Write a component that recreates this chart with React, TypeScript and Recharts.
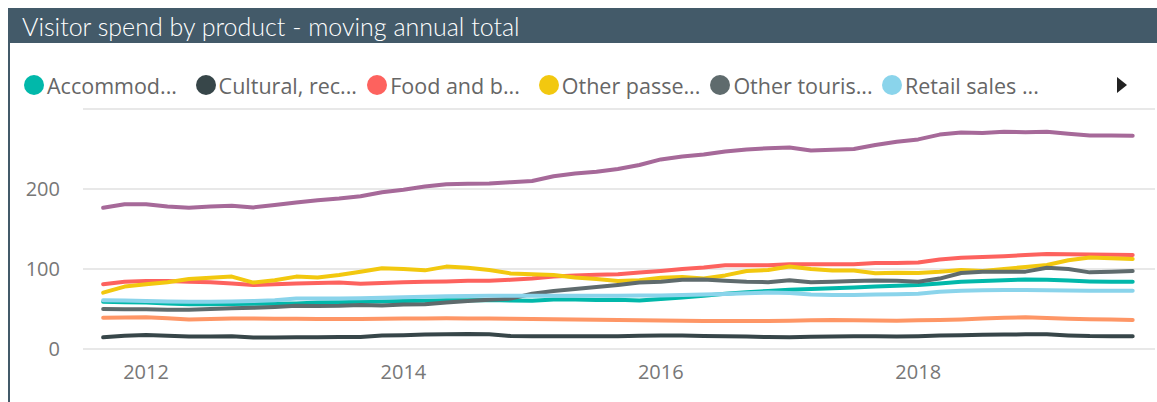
import { CartesianGrid, Line, LineChart, XAxis, YAxis } from "recharts";

// bi-monthly points, Sep 2011 .. Sep 2019 (decimal years)
const FIRST_YEAR = 2011;
const FIRST_MONTH = 8; // zero-based: September
const periods = Array.from({ length: 49 }, (_, i) => {
  const m = FIRST_MONTH + i * 2;
  return FIRST_YEAR + Math.floor(m / 12) + (m % 12) / 12;
});

const xTicks = [2012, 2014, 2016, 2018];
const yTicks = [0, 100, 200];

// $m, moving annual total
const accommodation = [59, 58.5, 58, 57, 56, 56, 56.3, 56.5, 56.5, 57, 58, 58.5, 59, 59.5, 60, 60.4, 60.8, 61, 61.2, 60.5, 60.3, 62, 61.8, 61.3, 61.5, 60.5, 62.5, 64.5, 66.5, 69, 71, 72.5, 74, 75, 76, 76.8, 78, 79, 80, 82, 84, 85, 86, 87, 86.5, 85.5, 84.5, 84, 84];
const cultural = [14.6, 16.7, 17.5, 16.5, 15.5, 15.6, 16, 14.5, 14.5, 14.6, 14.8, 15, 15, 16.8, 17.3, 18, 18.5, 18.8, 18.3, 16.2, 16, 16, 16, 16, 16, 16.5, 17, 16.8, 16.3, 16, 15.5, 15, 14.7, 15.2, 15.7, 16, 16, 15.6, 16, 16.8, 17.3, 17.7, 18, 18.3, 18.3, 17, 16.2, 16, 16];
const foodBeverage = [81, 84, 85, 85, 84, 83.5, 82, 80, 81, 82, 82.5, 83, 81.5, 82.5, 83.5, 84, 84.5, 85.4, 85.4, 86.5, 88, 90.5, 92, 92.7, 93.5, 95.5, 97.5, 100, 102, 104.6, 104.6, 104.6, 105.8, 105.8, 105.8, 106, 107.5, 107.5, 108, 112, 114, 115, 116, 117.5, 118.7, 118.5, 118, 117.8, 117.5];
const otherPassenger = [70.4, 78, 81, 83.5, 87.5, 89, 90.5, 83, 86, 90.5, 89.5, 92.5, 96.5, 101, 100, 98.3, 103, 101.5, 98.7, 94.5, 93.3, 92.5, 89.5, 87.5, 85, 86, 89, 90, 88, 92, 97.5, 98.75, 103, 100, 98, 98, 94.8, 95.2, 95, 96.5, 98.7, 97.5, 100, 102.5, 105, 111, 114.5, 113.5, 112.5];
const otherTourism = [50, 49.8, 49.6, 49.2, 49, 50, 51, 51.5, 52.5, 54, 53.7, 54, 55, 54.5, 55.5, 56, 58, 60, 61.5, 63, 69, 72.5, 75, 77.5, 80, 83, 84, 86.5, 87, 85.4, 84, 83.5, 86, 83.5, 84, 85, 85.5, 85.4, 84, 88, 95, 96.5, 96.7, 96.7, 101.5, 100, 95.8, 96.5, 97.5];
const retailFood = [61, 60.7, 60, 59.5, 59, 59, 59.5, 60, 61, 63, 63, 63, 63.5, 64, 64.7, 65.4, 66, 66.3, 66.7, 66.7, 66.7, 66.7, 66.7, 66.7, 66.7, 66.8, 67, 67.5, 68, 68.8, 69.7, 70.5, 70, 68, 67.5, 67.5, 68, 68.5, 69, 71.5, 72.9, 73.3, 73.7, 73.7, 73.3, 73, 72.9, 72.9, 72.9];
const retailFuel = [39, 39.3, 39.6, 38.5, 37, 37.5, 38, 38, 37.8, 37.7, 37.6, 37.5, 37.5, 37.8, 38, 38.2, 38.3, 38.2, 38, 37.7, 37.5, 37.2, 36.8, 36.5, 36.25, 36, 35.6, 35.3, 35, 35, 35, 35, 35.3, 35.8, 36.2, 35.8, 35.5, 35.4, 35.8, 36.3, 37, 38, 39, 39.6, 38.8, 37.8, 37.3, 36.8, 36.25];
const retailOther = [176.5, 181, 181, 178, 176.5, 178, 179, 177, 180, 183, 186, 188, 191, 196, 199, 203, 206, 206.5, 207, 208.5, 210, 216, 219.5, 221.5, 225, 230, 237, 240.5, 243, 247, 249.5, 251, 252, 248, 249, 250, 255, 259, 262, 268, 270.5, 270, 271.5, 271, 271.5, 269, 267, 267, 266.5];

const series = [
  { key: "accommodation", name: "Accommodation services", label: "Accommod...", color: "#01B8AA", values: accommodation },
  { key: "cultural", name: "Cultural, recreation and gambling services", label: "Cultural, rec...", color: "#374649", values: cultural },
  { key: "foodBeverage", name: "Food and beverage serving services", label: "Food and b...", color: "#FD625E", values: foodBeverage },
  { key: "otherPassenger", name: "Other passenger transport", label: "Other passe...", color: "#F2C80F", values: otherPassenger },
  { key: "otherTourism", name: "Other tourism products", label: "Other touris...", color: "#5F6B6D", values: otherTourism },
  { key: "retailFood", name: "Retail sales - alcohol, food and beverages", label: "Retail sales ...", color: "#8AD4EB", values: retailFood },
  { key: "retailFuel", name: "Retail sales - fuel and other automotive products", label: "Retail sales ...", color: "#FE9666", values: retailFuel },
  { key: "retailOther", name: "Retail sales - other", label: "Retail sales ...", color: "#A66999", values: retailOther },
];

const visibleLegend = series.slice(0, 6);

const rows = periods.map((t, i) => {
  const row: Record<string, number> = { t };
  series.forEach((s) => {
    row[s.key] = s.values[i];
  });
  return row;
});

const FONT = "'Segoe UI', 'Open Sans', sans-serif";

export default function App() {
  return (
    <div style={{ position: "absolute", left: 8, top: 8, width: 1149, height: 400, fontFamily: FONT }}>
      <style>{"body{margin:0;overflow:hidden;background:#fff}"}</style>
      <div
        style={{
          position: "absolute",
          inset: 0,
          borderLeft: "2px solid #435A69",
          boxSizing: "border-box",
        }}
      />
      <div
        style={{
          height: 35,
          background: "#435A69",
          color: "#fff",
          fontFamily: "Lato, 'Open Sans', sans-serif",
          fontSize: 25,
          fontWeight: 300,
          lineHeight: "37px",
          paddingLeft: 14,
          whiteSpace: "nowrap",
          overflow: "hidden",
        }}
      >
        Visitor spend by product - moving annual total
      </div>
      <div
        style={{
          position: "absolute",
          top: 66,
          left: 16,
          height: 22,
          display: "flex",
          alignItems: "center",
          fontSize: 21.5,
          color: "#666",
          whiteSpace: "nowrap",
        }}
      >
        {visibleLegend.map((s) => (
          <div key={s.key} style={{ display: "flex", alignItems: "center", gap: 3, width: 171.6, flex: "none" }}>
            <span style={{ width: 20, height: 20, borderRadius: "50%", background: s.color, display: "inline-block", flex: "none" }} />
            <span>{s.label}</span>
          </div>
        ))}
      </div>
      <div
        style={{
          position: "absolute",
          top: 69,
          left: 1109,
          width: 0,
          height: 0,
          borderTop: "8px solid transparent",
          borderBottom: "8px solid transparent",
          borderLeft: "10px solid #222",
        }}
      />
      <div style={{ position: "absolute", top: 92, left: 2 }}>
        <LineChart
          width={1147}
          height={300}
          data={rows}
          margin={{ top: 9, right: 2, bottom: 0, left: 0 }}
        >
          <CartesianGrid vertical={false} stroke="#E8E8E8" strokeWidth={2} />
          <XAxis
            dataKey="t"
            type="number"
            domain={[2011.51, 2019.84]}
            ticks={xTicks}
            allowDataOverflow
            tickLine={false}
            axisLine={false}
            tickSize={0}
            tickMargin={16}
            height={51}
            tick={{ fill: "#777", fontSize: 20, fontFamily: FONT }}
          />
          <YAxis
            domain={[0, 300]}
            ticks={yTicks}
            tickLine={false}
            axisLine={false}
            tickSize={0}
            tickMargin={23}
            width={73}
            tick={{ fill: "#777", fontSize: 20, fontFamily: FONT }}
          />
          {series.map((s) => (
            <Line
              key={s.key}
              dataKey={s.key}
              name={s.name}
              type="linear"
              stroke={s.color}
              strokeWidth={4}
              strokeLinecap="round"
              strokeLinejoin="round"
              dot={false}
              activeDot={false}
              isAnimationActive={false}
            />
          ))}
        </LineChart>
      </div>
    </div>
  );
}
